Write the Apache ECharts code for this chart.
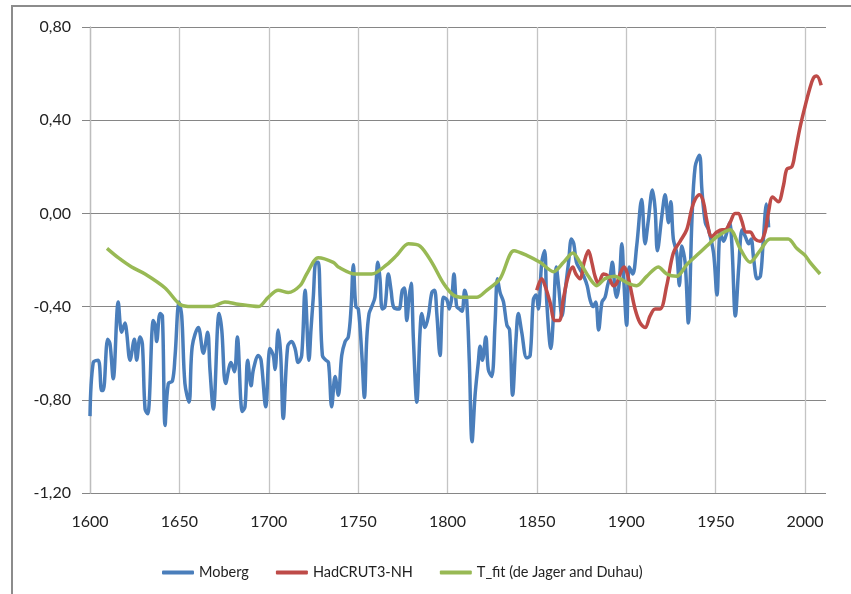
<!DOCTYPE html>
<html>
<head>
<meta charset="utf-8">
<script src="https://cdn.jsdelivr.net/npm/echarts@6/dist/echarts.min.js"></script>
<style>
html,body{margin:0;padding:0;background:#fff;}
#chart{width:851px;height:594px;}
</style>
</head>
<body>
<div id="chart"></div>
<script>
// ---- data ----
var xTicks = [1600, 1650, 1700, 1750, 1800, 1850, 1900, 1950, 2000];
var yTicks = [-1.2, -0.8, -0.4, 0, 0.4, 0.8];
var seriesNames = ['Moberg', 'HadCRUT3-NH', 'T_fit (de Jager and Duhau)'];

var mobergYears = [1600.0,1601.8,1604.6,1606.5,1607.4,1609.9,1611.2,1613.0,1615.8,1617.7,
1619.6,1620.5,1622.4,1624.8,1626.1,1628.0,1629.3,1630.8,1632.3,1635.4,
1636.4,1637.3,1639.2,1640.5,1642.0,1643.8,1646.1,1647.6,1649.8,1651.3,
1653.1,1655.4,1657.2,1660.6,1663.4,1665.8,1667.1,1669.0,1672.2,1673.7,
1675.9,1678.9,1680.8,1682.4,1685.2,1686.7,1688.2,1690.1,1691.4,1694.2,
1695.7,1698.3,1700.7,1702.5,1703.5,1705.3,1706.7,1708.1,1710.6,1712.8,
1714.7,1716.5,1718.4,1720.3,1722.5,1723.6,1724.9,1726.4,1727.7,1728.7,
1730.0,1731.9,1733.4,1735.2,1737.1,1738.9,1740.8,1742.7,1744.5,1746.0,
1747.3,1748.7,1750.1,1752.0,1753.5,1754.8,1756.1,1757.6,1759.4,1761.0,
1762.2,1763.5,1765.0,1766.9,1768.4,1769.7,1771.6,1772.9,1774.7,1775.9,
1777.2,1778.5,1779.6,1780.9,1782.8,1784.6,1785.6,1787.4,1789.3,1791.2,
1792.7,1794.0,1795.8,1797.7,1799.6,1801.0,1802.4,1803.6,1805.1,1806.6,
1808.1,1809.6,1810.7,1812.2,1813.7,1815.4,1817.2,1818.2,1819.5,1821.4,
1822.8,1824.7,1826.6,1827.9,1829.4,1831.3,1833.2,1834.7,1836.4,1838.3,
1839.6,1841.5,1844.3,1846.2,1848.0,1849.5,1850.8,1852.7,1854.3,1855.5,
1857.8,1859.3,1860.8,1862.1,1864.0,1865.8,1867.7,1869.3,1870.6,1872.1,
1874.1,1876.2,1878.1,1879.7,1881.4,1882.9,1884.5,1886.4,1888.1,1889.5,
1890.9,1892.2,1893.7,1894.6,1896.0,1897.5,1898.7,1900.2,1901.7,1903.6,
1905.8,1908.6,1910.5,1912.3,1914.6,1916.1,1917.4,1919.9,1921.7,1923.6,
1924.9,1926.3,1928.2,1929.7,1931.0,1932.9,1934.7,1936.7,1938.5,1940.9,
1942.3,1944.2,1946.0,1948.8,1950.7,1952.6,1954.4,1956.3,1957.8,1959.1,
1961.0,1962.9,1964.8,1966.6,1968.5,1969.8,1971.3,1973.2,1975.0,1976.5,
1978.4,1979.6];
var mobergValues = [-0.87,-0.64,-0.63,-0.76,-0.76,-0.54,-0.56,-0.71,-0.38,-0.51,
-0.47,-0.51,-0.63,-0.54,-0.63,-0.53,-0.56,-0.84,-0.86,-0.46,
-0.48,-0.55,-0.43,-0.44,-0.91,-0.73,-0.72,-0.61,-0.38,-0.44,
-0.73,-0.81,-0.57,-0.49,-0.60,-0.51,-0.67,-0.84,-0.43,-0.50,
-0.73,-0.64,-0.68,-0.53,-0.85,-0.83,-0.63,-0.74,-0.67,-0.61,
-0.63,-0.83,-0.58,-0.61,-0.67,-0.50,-0.61,-0.88,-0.57,-0.55,
-0.58,-0.64,-0.61,-0.33,-0.63,-0.50,-0.36,-0.21,-0.21,-0.36,
-0.61,-0.63,-0.64,-0.83,-0.70,-0.78,-0.61,-0.55,-0.53,-0.41,
-0.22,-0.40,-0.41,-0.60,-0.79,-0.54,-0.43,-0.40,-0.36,-0.21,
-0.28,-0.41,-0.40,-0.26,-0.33,-0.40,-0.41,-0.41,-0.33,-0.32,
-0.46,-0.36,-0.30,-0.54,-0.81,-0.51,-0.43,-0.49,-0.44,-0.34,
-0.33,-0.43,-0.61,-0.36,-0.37,-0.41,-0.36,-0.26,-0.40,-0.41,
-0.42,-0.33,-0.37,-0.64,-0.98,-0.78,-0.64,-0.57,-0.63,-0.53,
-0.67,-0.70,-0.47,-0.28,-0.34,-0.38,-0.48,-0.50,-0.78,-0.54,
-0.43,-0.51,-0.62,-0.61,-0.37,-0.35,-0.41,-0.21,-0.16,-0.38,
-0.58,-0.43,-0.23,-0.31,-0.44,-0.33,-0.21,-0.11,-0.13,-0.21,
-0.24,-0.27,-0.31,-0.37,-0.40,-0.38,-0.50,-0.38,-0.36,-0.31,
-0.27,-0.21,-0.33,-0.36,-0.30,-0.13,-0.30,-0.48,-0.23,-0.26,
-0.14,0.06,-0.13,-0.03,0.10,0.02,-0.16,-0.01,0.08,-0.04,
0.05,-0.11,-0.17,-0.31,-0.14,-0.21,-0.47,-0.03,0.20,0.25,
0.10,-0.04,-0.07,-0.17,-0.35,-0.08,-0.12,-0.08,-0.04,-0.14,
-0.44,-0.23,-0.07,-0.10,-0.13,-0.11,-0.20,-0.28,-0.27,-0.13,
0.04,-0.06];

var hadYears = [1849.9,1852.7,1854.5,1857.3,1860.1,1862.5,1864.7,1867.5,1870.0,1871.8,
1874.1,1876.4,1878.8,1880.7,1882.5,1884.4,1887.2,1890.0,1892.8,1894.6,
1896.5,1898.7,1900.2,1902.1,1904.9,1907.7,1910.5,1913.3,1916.1,1918.9,
1922.6,1926.3,1930.1,1933.8,1936.6,1938.5,1940.9,1943.1,1945.0,1947.8,
1950.7,1953.5,1955.2,1958.0,1960.8,1962.7,1964.5,1967.0,1969.2,1972.0,
1974.8,1977.6,1979.4,1981.9,1985.0,1987.9,1989.8,1992.6,1994.4,1997.2,
2000.0,2002.4,2004.6,2006.5,2009.0];
var hadValues = [-0.33,-0.28,-0.31,-0.38,-0.46,-0.46,-0.37,-0.27,-0.23,-0.26,
-0.28,-0.21,-0.16,-0.21,-0.27,-0.30,-0.26,-0.27,-0.31,-0.30,
-0.26,-0.23,-0.25,-0.31,-0.41,-0.47,-0.49,-0.44,-0.41,-0.41,
-0.31,-0.17,-0.12,-0.07,0.02,0.06,0.08,0.05,-0.03,-0.10,
-0.08,-0.07,-0.07,-0.04,0.00,0.00,-0.03,-0.08,-0.08,-0.11,
-0.12,-0.08,0.00,0.07,0.05,0.12,0.19,0.20,0.26,0.37,
0.46,0.53,0.58,0.59,0.55];

var tfitYears = [1609.5,1615.8,1623.3,1630.8,1642.0,1650.3,1656.9,1668.1,1675.5,1683.0,
1694.2,1699.7,1705.3,1710.9,1717.5,1721.2,1727.7,1736.1,1738.9,1748.3,
1757.6,1766.0,1771.6,1778.1,1784.6,1791.2,1797.7,1803.2,1808.8,1816.3,
1821.9,1829.4,1837.2,1844.3,1851.7,1859.3,1864.9,1870.1,1874.1,1878.8,
1883.5,1888.1,1893.7,1896.5,1901.1,1905.8,1911.4,1917.9,1922.6,1928.2,
1933.8,1939.4,1945.0,1950.7,1958.0,1963.6,1969.2,1974.8,1980.4,1986.0,
1990.6,1995.3,2000.0,2002.8,2008.4];
var tfitValues = [-0.15,-0.19,-0.23,-0.26,-0.32,-0.39,-0.40,-0.40,-0.38,-0.39,
-0.40,-0.36,-0.33,-0.34,-0.31,-0.26,-0.19,-0.21,-0.23,-0.26,
-0.26,-0.22,-0.18,-0.13,-0.14,-0.21,-0.30,-0.35,-0.36,-0.36,
-0.33,-0.28,-0.16,-0.18,-0.21,-0.25,-0.21,-0.17,-0.21,-0.27,
-0.31,-0.28,-0.27,-0.28,-0.30,-0.31,-0.27,-0.23,-0.26,-0.27,
-0.22,-0.18,-0.14,-0.10,-0.07,-0.15,-0.21,-0.16,-0.11,-0.11,
-0.11,-0.15,-0.18,-0.21,-0.26];

function pairs(xs, ys) {
  var out = [];
  for (var i = 0; i < Math.min(xs.length, ys.length); i++) out.push([xs[i], ys[i]]);
  return out;
}

var chart = echarts.init(document.getElementById('chart'), null, {renderer: 'canvas'});
var FONT = 'Lato, "Open Sans", sans-serif';

var option = {
  animation: false,
  backgroundColor: '#ffffff',
  graphic: [{
    type: 'rect',
    shape: {x: 12, y: 6, width: 860, height: 620},
    style: {fill: 'none', stroke: '#8c8c8c', lineWidth: 2},
    silent: true
  }],
  grid: {left: 90, right: 25, top: 27, bottom: 101, containLabel: false},
  legend: {
    left: 162, top: 565, padding: 0,
    itemWidth: 32, itemHeight: 4, itemGap: 27,
    icon: 'roundRect',
    textStyle: {fontFamily: FONT, fontSize: 14.5, color: '#222'},
    data: seriesNames
  },
  xAxis: {
    type: 'value',
    min: xTicks[0], max: 2011.7, interval: 50,
    axisLine: {show: true, lineStyle: {color: '#868686', width: 1}},
    axisTick: {show: true, length: 6, lineStyle: {color: '#bdbdbd'}, customValues: xTicks},
    axisLabel: {
      customValues: xTicks,
      margin: 21,
      fontFamily: FONT, fontSize: 16, color: '#222',
      formatter: function(v){ return String(Math.round(v)); }
    },
    splitLine: {show: true, lineStyle: {color: '#c4c4c4', width: 1.3}}
  },
  yAxis: {
    type: 'value',
    min: yTicks[0], max: yTicks[yTicks.length - 1], interval: 0.4,
    axisLine: {show: true, lineStyle: {color: '#bdbdbd', width: 1.3}},
    axisTick: {show: true, inside: false, length: 8, lineStyle: {color: '#868686'}},
    axisLabel: {
      margin: 19,
      fontFamily: FONT, fontSize: 16, color: '#222',
      formatter: function(v){ return (Math.round(v * 100) / 100).toFixed(2).replace('.', ','); }
    },
    splitLine: {show: true, lineStyle: {color: '#868686', width: 1}}
  },
  series: [
    {
      name: seriesNames[0], type: 'line', data: pairs(mobergYears, mobergValues),
      showSymbol: false, symbol: 'none', smooth: 0.35,
      lineStyle: {color: '#4a7ebb', width: 3.5}, itemStyle: {color: '#4a7ebb'}
    },
    {
      name: seriesNames[1], type: 'line', data: pairs(hadYears, hadValues),
      showSymbol: false, symbol: 'none', smooth: 0.35,
      lineStyle: {color: '#be4b48', width: 3.5}, itemStyle: {color: '#be4b48'}
    },
    {
      name: seriesNames[2], type: 'line', data: pairs(tfitYears, tfitValues),
      showSymbol: false, symbol: 'none', smooth: 0.3,
      lineStyle: {color: '#98b954', width: 3.5}, itemStyle: {color: '#98b954'}
    }
  ]
};
chart.setOption(option);
</script>
</body>
</html>
